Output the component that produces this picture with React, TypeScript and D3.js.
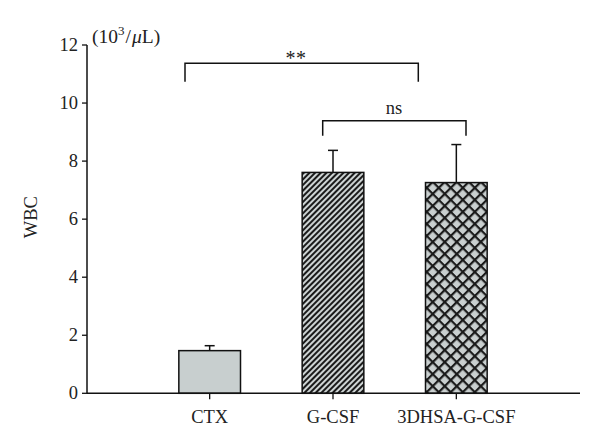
import React from "react";
import * as d3 from "d3";

const categories = ["CTX", "G-CSF", "3DHSA-G-CSF"];
const means = [1.47, 7.61, 7.26];
const errors = [0.17, 0.76, 1.31];
const yTicks = [0, 2, 4, 6, 8, 10, 12];
const fills = ["url(#solid)", "url(#diag)", "url(#cross)"];

export default function App() {
  const W = 600, H = 448;
  const x0 = 87, y0 = 393.3, yTop = 45;
  const y = d3.scaleLinear().domain([0, 12]).range([y0, yTop]);
  const x = d3.scaleBand().domain(categories).range([148, 518]).paddingInner(0.5).paddingOuter(0.25);
  const bw = x.bandwidth();
  const cx = (c: string) => (x(c) as number) + bw / 2;
  const font = "'Liberation Serif', 'Times New Roman', serif";
  const fs = 18.5;
  return (
    <svg width={W} height={H} style={{ position: "absolute", left: 0, top: 0, background: "#fff" }} fontFamily={font}>
      <defs>
        <pattern id="diag" patternUnits="userSpaceOnUse" width="4" height="4" patternTransform="rotate(45)">
          <rect width="4" height="4" fill="#cdd3d3" />
          <rect width="2" height="4" fill="#1a1a1a" />
        </pattern>
        <pattern id="cross" patternUnits="userSpaceOnUse" width="8.5" height="8.5" patternTransform="rotate(45)">
          <rect width="8.5" height="8.5" fill="#c9cfcf" />
          <rect width="2.2" height="8.5" fill="#1a1a1a" />
          <rect width="8.5" height="2.2" fill="#1a1a1a" />
        </pattern>
        <pattern id="solid" patternUnits="userSpaceOnUse" width="4" height="4">
          <rect width="4" height="4" fill="#c8cfcf" />
        </pattern>
      </defs>
      {categories.map((c, i) => (
        <g key={c}>
          <line x1={cx(c)} x2={cx(c)} y1={y(means[i])} y2={y(means[i] + errors[i])} stroke="#111" strokeWidth={1.5} />
          <line x1={cx(c) - 5} x2={cx(c) + 5} y1={y(means[i] + errors[i])} y2={y(means[i] + errors[i])} stroke="#111" strokeWidth={1.5} />
          <rect x={x(c)} y={y(means[i])} width={bw} height={y(0) - y(means[i])} fill={fills[i]} stroke="#111" strokeWidth={1.5} />
          <line x1={cx(c)} x2={cx(c)} y1={y0} y2={y0 + 6} stroke="#111" strokeWidth={1.3} />
          <text x={cx(c)} y={y0 + 30} textAnchor="middle" fontSize={fs} fill="#222">{c}</text>
        </g>
      ))}
      <line x1={x0} x2={580} y1={y0} y2={y0} stroke="#111" strokeWidth={1.5} />
      <line x1={x0} x2={x0} y1={yTop} y2={y0} stroke="#111" strokeWidth={1.5} />
      {yTicks.map((t) => (
        <g key={t}>
          <line x1={x0 - 5} x2={x0} y1={y(t)} y2={y(t)} stroke="#111" strokeWidth={1.3} />
          <text x={x0 - 9} y={y(t) + 6} textAnchor="end" fontSize={fs} fill="#222">{t}</text>
        </g>
      ))}
      <text x={92} y={43} fontSize={19.5} fill="#222">
        (10<tspan dy={-8} fontSize={13}>3</tspan><tspan dy={8} dx={1}>/</tspan><tspan dx={1} fontStyle="italic">μ</tspan>L)
      </text>
      <text transform={`translate(37,${(y0 + yTop) / 2 - 2}) rotate(-90)`} textAnchor="middle" fontSize={fs} fill="#222">WBC</text>
      {/* ** bracket */}
      <path d={`M185,81.7 V63.3 H418.3 V81.7`} fill="none" stroke="#111" strokeWidth={1.5} />
      <text x={290.5} y={65} textAnchor="middle" fontSize={20} fill="#222">*</text>
      <text x={301} y={65} textAnchor="middle" fontSize={20} fill="#222">*</text>
      <path d={`M322.7,135.7 V120.7 H466 V135.7`} fill="none" stroke="#111" strokeWidth={1.5} />
      <text x={394} y={114} textAnchor="middle" fontSize={fs} fill="#222">ns</text>
    </svg>
  );
}
